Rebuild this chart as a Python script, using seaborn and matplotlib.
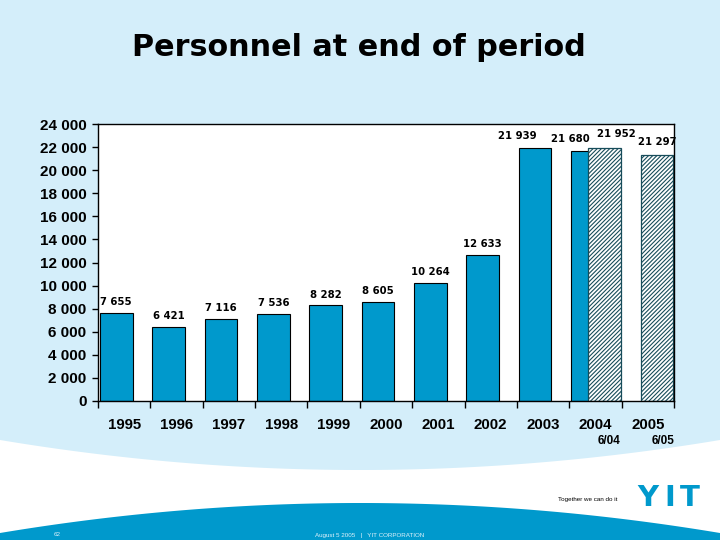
import matplotlib
matplotlib.use("Agg")
import matplotlib.pyplot as plt
import numpy as np
import pandas as pd
import seaborn as sns
from matplotlib.ticker import FuncFormatter

# ---------------- data ----------------
years = ["1995", "1996", "1997", "1998", "1999", "2000",
         "2001", "2002", "2003", "2004", "2005"]
year_end_years = ["1995", "1996", "1997", "1998", "1999", "2000",
                  "2001", "2002", "2003", "2004"]
year_end_values = [7655, 6421, 7116, 7536, 8282, 8605,
                   10264, 12633, 21939, 21680]
mid_year_years = ["2004", "2005"]
mid_year_values = [21952, 21297]
mid_year_labels = ["6/04", "6/05"]
y_ticks = list(range(0, 24001, 2000))
title = "Personnel at end of period"

# ---------------- style ----------------
sns.set_style("ticks")
plt.rcParams["font.family"] = ["Liberation Sans", "DejaVu Sans"]
plt.rcParams["hatch.linewidth"] = 0.8
plt.rcParams["text.color"] = "black"
plt.rcParams["xtick.color"] = "black"
plt.rcParams["ytick.color"] = "black"
plt.rcParams["xtick.labelcolor"] = "black"
plt.rcParams["ytick.labelcolor"] = "black"

BG = "#D4EEFA"
BLUE = "#0099CC"
HATCH = "#174c5a"


def fmt(v):
    return f"{int(v):,}".replace(",", " ")


fig = plt.figure(figsize=(7.2, 5.4), dpi=100, facecolor=BG)

# slide decoration (pixel coordinates)
bg = fig.add_axes([0, 0, 1, 1], zorder=0)
bg.set_xlim(0, 720)
bg.set_ylim(540, 0)
bg.axis("off")
xs = np.linspace(0, 720, 300)
light_bottom = 470 - 30 * ((xs - 360) / 360) ** 2
band_top = 503 + 30 * ((xs - 360) / 360) ** 2
bg.fill_between(xs, light_bottom, 541, color="white", lw=0)
bg.fill_between(xs, band_top, 541, color=BLUE, lw=0)
bg.text(558, 499, "Together we can do it", fontsize=4.5, color="black",
        ha="left", va="center")
for letter, lx in zip("YIT", [648, 670, 690]):
    bg.text(lx, 498, letter, fontsize=21, fontweight="bold", color=BLUE,
            ha="center", va="center", family="DejaVu Sans")
bg.text(57, 535, "62", fontsize=4.5, color="#dff2fb", ha="center", va="center")
bg.text(370, 535, "August 5 2005   |   YIT CORPORATION", fontsize=4.5,
        color="#dff2fb", ha="center", va="center")

fig.text(359 / 720, 1 - 56 / 540, title, ha="center", va="baseline",
         fontsize=21.8, fontweight="bold", family="DejaVu Sans", color="black")

# ---------------- main chart ----------------
ax = fig.add_axes([98 / 720, 1 - 401 / 540, 576 / 720, 277 / 540], zorder=1)
ax.set_facecolor("white")

pos = {y: i for i, y in enumerate(years)}
solid_df = pd.DataFrame({"x": [pos[y] - 0.153 for y in year_end_years],
                         "v": year_end_values})
mid_df = pd.DataFrame({"x": [pos[y] + 0.177 for y in mid_year_years],
                       "v": mid_year_values})

sns.barplot(data=solid_df, x="x", y="v", native_scale=True, width=0.625,
            color=BLUE, saturation=1, edgecolor="black", linewidth=0.8,
            errorbar=None, ax=ax)
sns.barplot(data=mid_df, x="x", y="v", native_scale=True, width=0.625,
            color="white", saturation=1, edgecolor=HATCH, linewidth=0.9,
            hatch="////////", errorbar=None, ax=ax)

ax.set_xlim(-0.5, len(years) - 0.5)
ax.set_ylim(0, 24000)
ax.set_xlabel("")
ax.set_ylabel("")

# x axis: ticks on category boundaries, labels at centres
ax.set_xticks(np.arange(-0.5, len(years), 1.0))
ax.set_xticklabels([])
ax.set_xticks(np.arange(len(years)), minor=True)
ax.set_xticklabels(years, minor=True, fontsize=10.8, fontweight="bold",
                   color="black")
ax.tick_params(axis="x", which="major", length=5, width=1, direction="out",
               color="black")
ax.tick_params(axis="x", which="minor", length=0, pad=12.5)

ax.set_yticks(y_ticks)
ax.yaxis.set_major_formatter(FuncFormatter(lambda v, p: fmt(v)))
ax.tick_params(axis="y", length=4.3, width=1, direction="out", pad=4,
               labelsize=11, color="black", labelcolor="black")
for lab in ax.get_yticklabels():
    lab.set_fontweight("bold")

for sp in ax.spines.values():
    sp.set_visible(True)
    sp.set_color("black")
    sp.set_linewidth(1)

# value labels (offsets in points)
solid_dx = [0, 0, 0, 0, 0, 0, 0, 0, -13, -12.6]
solid_dy = [5.6, 5.6, 5.6, 5.6, 5.6, 5.6, 5.6, 5.6, 6.0, 6.5]
for x, v, dx, dy in zip(solid_df["x"], year_end_values, solid_dx, solid_dy):
    ax.annotate(fmt(v), (x, v), xytext=(dx, dy), textcoords="offset points",
                ha="center", va="baseline", fontsize=7.3, fontweight="bold",
                family="DejaVu Sans", color="black", annotation_clip=False)
mid_dx = [8.4, 0]
mid_dy = [7.4, 7.4]
for x, v, dx, dy in zip(mid_df["x"], mid_year_values, mid_dx, mid_dy):
    ax.annotate(fmt(v), (x, v), xytext=(dx, dy), textcoords="offset points",
                ha="center", va="baseline", fontsize=7.3, fontweight="bold",
                family="DejaVu Sans", color="black", annotation_clip=False)

# period labels under the year labels
period_dx = [3, 4.5]
for x, lab, dx in zip(mid_df["x"], mid_year_labels, period_dx):
    ax.annotate(lab, (x, -0.1426), xycoords=ax.get_xaxis_transform(),
                xytext=(dx, 0), textcoords="offset points", ha="center",
                va="center", fontsize=8.5, fontweight="bold", color="black",
                annotation_clip=False)

fig.savefig("out.png", dpi=100, facecolor=BG)
